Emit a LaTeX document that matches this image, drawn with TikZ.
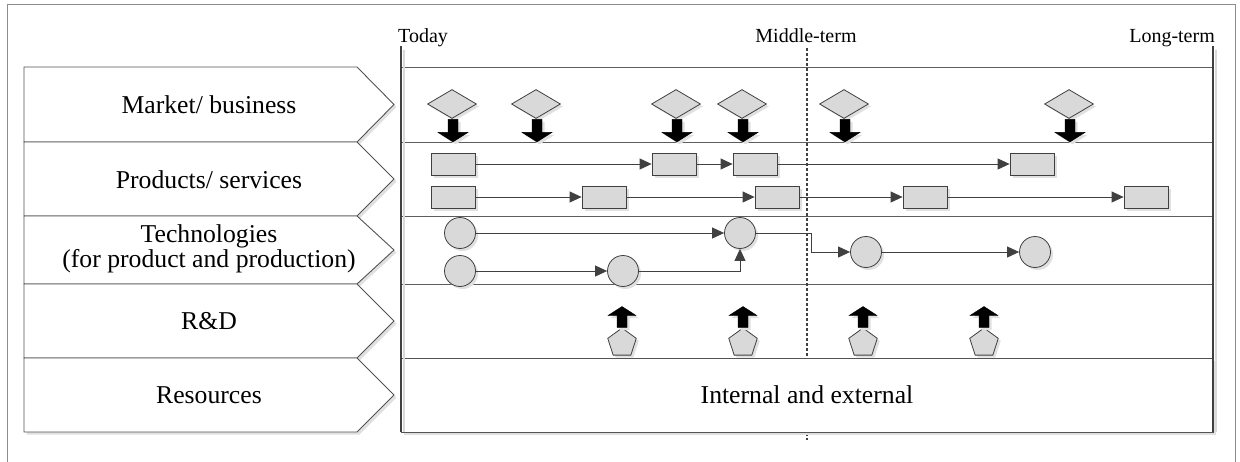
\documentclass[tikz,border=0pt]{standalone}
\usepackage{fontspec}
\setmainfont{Liberation Serif}
\newfontfamily\lanefont{Liberation Serif}
\usetikzlibrary{shapes.geometric,arrows.meta,shadows,calc}
\definecolor{ln}{HTML}{404040}
\definecolor{sh}{HTML}{D9D9D9}
\begin{document}
\begin{tikzpicture}[x=1pt,y=-1pt,
  shad/.style={drop shadow={shadow xshift=2.5pt,shadow yshift=-2.5pt,fill=black!12,opacity=1}},
  lane/.style={draw=ln!90,line width=0.9pt,fill=white,shad},
  lanetext/.style={font=\lanefont\fontsize{25.7}{25}\selectfont,align=center,inner sep=0pt},
  timetext/.style={font=\lanefont\fontsize{20}{22}\selectfont,inner sep=0pt},
  mk/.style={shape=diamond,draw=ln,fill=sh,minimum width=49pt,minimum height=29pt,inner sep=0pt,line width=0.8pt,shad},
  prod/.style={rectangle,draw=ln,fill=sh,minimum width=44pt,minimum height=22pt,inner sep=0pt,line width=0.8pt,shad},
  tech/.style={circle,draw=ln,fill=sh,minimum size=31pt,inner sep=0pt,line width=0.8pt,shad},
  rd/.style={regular polygon,regular polygon sides=5,draw=ln,fill=sh,minimum size=30pt,inner sep=0pt,line width=0.8pt,shad},
  flow/.style={draw=ln,line width=0.9pt,-{Triangle[length=12pt,width=11pt]}},
  blk/.style={fill=black,draw=black,line width=0.4pt,shad},
]
\useasboundingbox (0,0) rectangle (1240,461);
% outer frame
\draw[black!45,line width=0.9pt] (7,475) -- (7,4) -- (1235,4) -- (1235,475);
% left chevrons
\foreach \t/\b in {67/142,142/216,216/284,284/358,358/432}
  \draw[lane] (24,\t) -- (357,\t) -- (394,{(\t+\b)/2}) -- (357,\b) -- (24,\b) -- cycle;
\node[lanetext] (t1) at (209,104.5) {Market/ business};
\node[lanetext] (t2) at (209,180) {Products/ services};
\node[lanetext] (t3) at (209,249) {Technologies\\(for product and production)};
\node[lanetext] (t4) at (209,321) {R\&D};
\node[lanetext] (t5) at (209,395) {Resources};
% time axis
\node[timetext,anchor=base west] (today) at (398,42) {Today};
\node[timetext,anchor=base] (mid) at (806,42) {Middle-term};
\node[timetext,anchor=base east] (long) at (1215,42) {Long-term};
\foreach \y in {67,142,216,284}
  \draw[ln!85,line width=1pt] (401,\y) -- (1213,\y);
\draw[ln,line width=1.8pt,dash pattern=on 3pt off 2pt] (807,48) -- (807,440);
\draw[lane] (401,358) rectangle (1213,432);
\node[lanetext] (res) at (807,395) {Internal and external};
\draw[black!15,line width=2pt] (404,50) -- (404,432);
\draw[ln,line width=2.6pt] (401,46) -- (401,432);
\draw[black!15,line width=2pt] (1216,50) -- (1216,432);
\draw[ln,line width=1.8pt] (1213,46) -- (1213,432);
% market diamonds
\foreach \i/\x in {1/452,2/536,3/676,4/742,5/844,6/1069}{
  \node[mk] (m\i) at (\x,104) {};
  \draw[blk] ($(m\i.south)+(-4,0.5)$) -- ++(10,0) -- ++(0,13) -- ++(10,0) -- ++(-15,9.5) -- ++(-15,-9.5) -- ++(10,0) -- cycle;
}
% products
\node[prod] (p1) at (453,164) {};
\node[prod] (p2) at (674,164) {};
\node[prod] (p3) at (755,164) {};
\node[prod] (p4) at (1032,164) {};
\node[prod] (q1) at (453,197) {};
\node[prod] (q2) at (604,197) {};
\node[prod] (q3) at (777,197) {};
\node[prod] (q4) at (925,197) {};
\node[prod] (q5) at (1146,197) {};
\draw[flow] (p1) -- (p2);
\draw[flow] (p2) -- (p3);
\draw[flow] (p3) -- (p4);
\draw[flow] (q1) -- (q2);
\draw[flow] (q2) -- (q3);
\draw[flow] (q3) -- (q4);
\draw[flow] (q4) -- (q5);
% technologies
\node[tech] (ta) at (460,233) {};
\node[tech] (tb) at (460,271) {};
\node[tech] (tc) at (623,271) {};
\node[tech] (td) at (740,233) {};
\node[tech] (te) at (866,252) {};
\node[tech] (tf) at (1035,252) {};
\coordinate (k) at (811,233);
\draw[flow] (ta) -- (td);
\draw[flow] (tb) -- (tc);
\draw[flow] (tc.east) -| (td.south);
\draw[flow] (td.east) -- (k) |- (te.west);
\draw[flow] (te) -- (tf);
% R&D
\foreach \i/\x in {1/622,2/743,3/863,4/984}{
  \node[rd] (r\i) at (\x,343) {};
  \draw[blk] ($(r\i.north)+(-5,0)$) -- ++(0,-12) -- ++(-9,0) -- ++(14,-9) -- ++(14,9) -- ++(-9,0) -- ++(0,12) -- cycle;
}
\end{tikzpicture}
\end{document}
